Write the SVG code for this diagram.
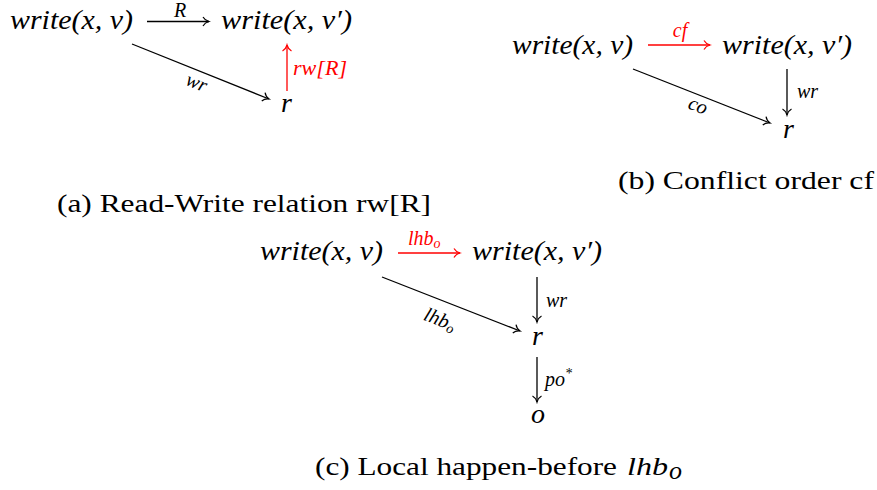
<svg xmlns="http://www.w3.org/2000/svg" width="877" height="490" viewBox="0 0 877 490">
<style>
  .m { font-family: "Liberation Serif", "DejaVu Serif", serif; font-style: italic; font-size: 28px; fill: #000; }
  .l { font-family: "Liberation Serif", "DejaVu Serif", serif; font-style: italic; font-size: 20px; fill: #000; }
  .red { fill: #ff0000; }
  .cap { font-family: "Liberation Serif", "DejaVu Serif", serif; font-size: 26px; fill: #000; }
  .e { fill: none; stroke: #000; stroke-width: 1.3; marker-end: url(#ah); }
  .er { fill: none; stroke: #ff0000; stroke-width: 1.3; marker-end: url(#ahr); }
</style>
<defs>
  <marker id="ah" viewBox="-8 -6 10 12" markerWidth="10" markerHeight="12" refX="0" refY="0" orient="auto" markerUnits="userSpaceOnUse">
    <path d="M-6,-4.5 C-4.5,-1.8 -1.5,-0.4 0,0 C-1.5,0.4 -4.5,1.8 -6,4.5" fill="none" stroke="#000" stroke-width="1.2"/>
  </marker>
  <marker id="ahr" viewBox="-8 -6 10 12" markerWidth="10" markerHeight="12" refX="0" refY="0" orient="auto" markerUnits="userSpaceOnUse">
    <path d="M-6,-4.5 C-4.5,-1.8 -1.5,-0.4 0,0 C-1.5,0.4 -4.5,1.8 -6,4.5" fill="none" stroke="#ff0000" stroke-width="1.2"/>
  </marker>
</defs>
<rect width="877" height="490" fill="#fff"/>

<!-- (a) -->
<g id="a-w1"><text class="m" x="10" y="29" textLength="123" lengthAdjust="spacingAndGlyphs">write(x, v)</text></g>
<g id="a-w2"><text class="m" x="221" y="29" textLength="131" lengthAdjust="spacingAndGlyphs">write(x, v′)</text></g>
<g id="a-r"><text class="m" x="281" y="112">r</text></g>
<g id="a-edges">
  <line class="e" x1="147" y1="21.5" x2="209" y2="21.5"/>
  <text class="l" x="180" y="17" font-size="14" text-anchor="middle">R</text>
  <line class="e" x1="132" y1="44" x2="269" y2="99"/>
  <text class="l" x="197" y="89" text-anchor="middle" transform="rotate(21.9 197 82)">wr</text>
  <line class="er" x1="287" y1="91" x2="287" y2="45"/>
  <text class="l red" x="293" y="75" textLength="54" lengthAdjust="spacingAndGlyphs">rw[R]</text>
</g>
<g id="a-cap"><text class="cap" x="57" y="212" textLength="374" lengthAdjust="spacingAndGlyphs">(a) Read-Write relation rw[R]</text></g>

<!-- (b) -->
<g id="b-w1"><text class="m" x="512" y="54" textLength="121" lengthAdjust="spacingAndGlyphs">write(x, v)</text></g>
<g id="b-w2"><text class="m" x="722" y="54" textLength="130" lengthAdjust="spacingAndGlyphs">write(x, v′)</text></g>
<g id="b-r"><text class="m" x="783" y="138">r</text></g>
<g id="b-edges">
  <line class="er" x1="648" y1="45" x2="710" y2="45"/>
  <text class="l red" x="680" y="37" text-anchor="middle">cf</text>
  <line class="e" x1="787" y1="69" x2="787" y2="115"/>
  <text class="l" x="797" y="98">wr</text>
  <line class="e" x1="633" y1="69" x2="770" y2="123"/>
  <text class="l" x="698" y="112" text-anchor="middle" transform="rotate(21.5 698 106)">co</text>
</g>
<g id="b-cap"><text class="cap" x="618" y="189" textLength="256" lengthAdjust="spacingAndGlyphs">(b) Conflict order cf</text></g>

<!-- (c) -->
<g id="c-w1"><text class="m" x="260" y="260" textLength="123" lengthAdjust="spacingAndGlyphs">write(x, v)</text></g>
<g id="c-w2"><text class="m" x="472" y="260" textLength="130" lengthAdjust="spacingAndGlyphs">write(x, v′)</text></g>
<g id="c-r"><text class="m" x="532" y="345">r</text></g>
<g id="c-o"><text class="m" x="531" y="423">o</text></g>
<g id="c-edges">
  <line class="er" x1="398" y1="253" x2="460" y2="253"/>
  <text class="l red" x="408" y="245">lhb<tspan font-size="14" dy="3">o</tspan></text>
  <line class="e" x1="537" y1="277" x2="537" y2="322"/>
  <text class="l" x="546" y="307">wr</text>
  <line class="e" x1="537" y1="357" x2="537" y2="402"/>
  <text class="l" x="545" y="386">po<tspan font-size="14" dy="-8">*</tspan></text>
  <line class="e" x1="382" y1="277" x2="520" y2="331"/>
  <text class="l" x="440" y="327" text-anchor="middle" transform="rotate(21.4 443 320)">lhb<tspan font-size="14" dy="3">o</tspan></text>
</g>
<g id="c-cap">
  <text class="cap" x="315" y="475" textLength="302" lengthAdjust="spacingAndGlyphs">(c) Local happen-before</text>
  <text class="cap" x="627" y="475" font-style="italic" textLength="41" lengthAdjust="spacingAndGlyphs">lhb</text>
  <text class="cap" x="669" y="479" font-style="italic" font-size="17">o</text>
</g>
</svg>
